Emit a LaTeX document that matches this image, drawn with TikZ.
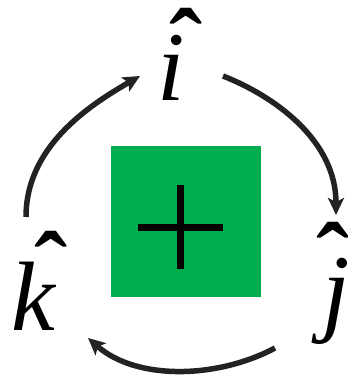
\documentclass[tikz,border=0pt]{standalone}
\usepackage{fontspec}
\setmainfont{Liberation Serif}
\usetikzlibrary{arrows.meta}
\definecolor{sqgreen}{RGB}{0,174,79}
\definecolor{arr}{RGB}{34,34,34}
\begin{document}
\begin{tikzpicture}[x=1bp,y=-1bp,
  letter/.style={inner sep=0pt, font=\fontsize{99}{100}\selectfont\itshape, anchor=base},
  hat/.style={inner sep=0pt, font=\fontsize{100}{100}\selectfont\bfseries, anchor=north},
  cyc/.style={draw=arr, line width=5.5bp, -{Stealth[length=17bp,width=16bp,inset=4bp]}},
  plusbar/.style={draw=black, line width=7bp}]
\useasboundingbox (0,0) rectangle (348,378);
\node[fill=sqgreen, minimum width=150bp, minimum height=151bp, inner sep=0pt] (sq) at (186,221.5) {};
\coordinate (pl) at (138,227);
\coordinate (pr) at (223,227);
\coordinate (pt) at (180,185);
\coordinate (pb) at (180,269);
\draw[plusbar] (pl) -- (pr);
\draw[plusbar] (pt) -- (pb);
\node[letter] (i) at (171,100) {i};
\node[hat] (ih) at (186,8) {ˆ};
\node[letter] (j) at (336,323) {j};
\node[hat] (jh) at (333,222) {ˆ};
\node[letter] (k) at (33,330) {k};
\node[hat] (kh) at (51,231) {ˆ};
\coordinate (a1s) at (26,217);
\coordinate (a1e) at (140,76);
\coordinate (a2s) at (223,76);
\coordinate (a2e) at (336,215);
\coordinate (a3s) at (275,348);
\coordinate (a3e) at (88,338);
\draw[cyc] (a1s) .. controls (26,147) and (88,106) .. (a1e);
\draw[cyc] (a2s) .. controls (274,96) and (336,140) .. (a2e);
\draw[cyc] (a3s) .. controls (218,378.5) and (137,381) .. (a3e);
\end{tikzpicture}
\end{document}
